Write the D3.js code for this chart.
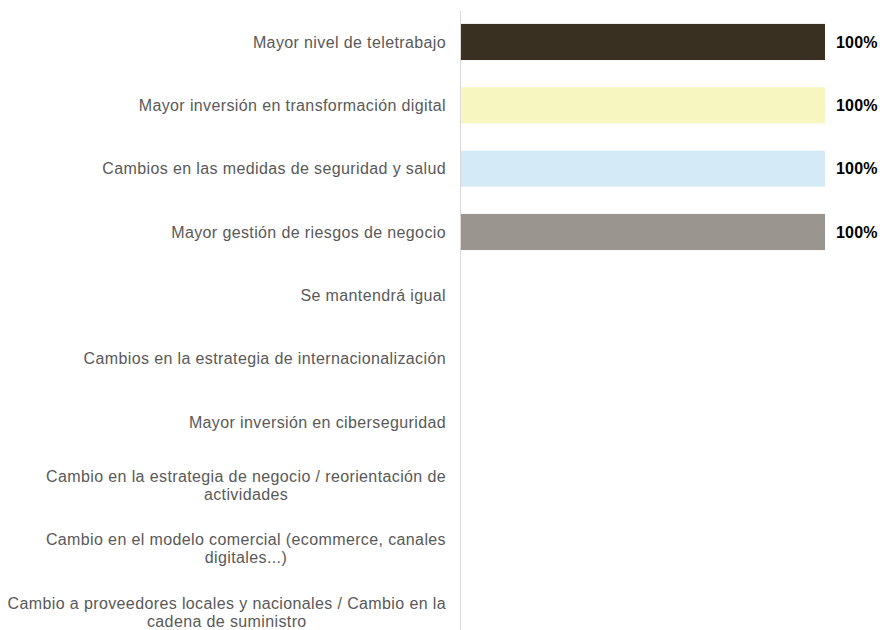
<!DOCTYPE html>
<html>
<head>
<meta charset="utf-8">
<script src="https://cdn.jsdelivr.net/npm/d3@7"></script>
<style>
  html, body { margin: 0; padding: 0; background: #fff; }
  svg { display: block; font-family: "Liberation Sans", Arial, sans-serif; }
</style>
</head>
<body>
<svg id="chart" width="880" height="630"></svg>
<script>
const categories = [
  "Mayor nivel de teletrabajo",
  "Mayor inversión en transformación digital",
  "Cambios en las medidas de seguridad y salud",
  "Mayor gestión de riesgos de negocio",
  "Se mantendrá igual",
  "Cambios en la estrategia de internacionalización",
  "Mayor inversión en ciberseguridad",
  "Cambio en la estrategia de negocio / reorientación de actividades",
  "Cambio en el modelo comercial (ecommerce, canales digitales...)",
  "Cambio a proveedores locales y nacionales / Cambio en la cadena de suministro"
];
const values = [100, 100, 100, 100, 0, 0, 0, 0, 0, 0];
const barColors = ["#3a3021", "#f7f6c1", "#d5eaf7", "#9a958e", "#9a958e", "#9a958e", "#9a958e", "#9a958e", "#9a958e", "#9a958e"];

const svg = d3.select("#chart");
const axisX = 460.5;
const labelRight = 446;
const maxLabelWidth = 445;
const fontSize = 16;
const spacing = 0.38;

const x = d3.scaleLinear().domain([0, 100]).range([461, 825]);
const y = d3.scaleBand().domain(categories).range([10.3, 643.7]).paddingInner(0.43).paddingOuter(0.215);

// vertical category axis line
svg.append("line")
  .attr("x1", axisX).attr("x2", axisX)
  .attr("y1", 11).attr("y2", 630)
  .attr("stroke", "#d9d9d9").attr("stroke-width", 1);

// bars
const data = categories.map((c, i) => ({ c, v: values[i], color: barColors[i] }));
svg.append("g").selectAll("rect")
  .data(data.filter(d => d.v > 0))
  .join("rect")
  .attr("x", x(0))
  .attr("y", d => y(d.c))
  .attr("width", d => x(d.v) - x(0))
  .attr("height", y.bandwidth())
  .attr("fill", d => d.color);

// value labels
svg.append("g").selectAll("text")
  .data(data.filter(d => d.v > 0))
  .join("text")
  .attr("x", d => x(d.v) + 11)
  .attr("y", d => y(d.c) + y.bandwidth() / 2)
  .attr("dy", "0.36em")
  .attr("font-size", fontSize)
  .attr("font-weight", "bold")
  .attr("letter-spacing", 0.2)
  .attr("fill", "#000")
  .text(d => d.v + "%");

// category labels, wrapped; lines centered within a right-aligned block
const measure = svg.append("text")
  .attr("font-size", fontSize)
  .attr("letter-spacing", spacing)
  .attr("visibility", "hidden");
function textWidth(s) { measure.text(s); return measure.node().getComputedTextLength(); }
function wrap(s) {
  const words = s.split(" ");
  const lines = [];
  let cur = "";
  words.forEach(w => {
    const t = cur ? cur + " " + w : w;
    if (textWidth(t) > maxLabelWidth && cur) { lines.push(cur); cur = w; }
    else cur = t;
  });
  if (cur) lines.push(cur);
  return lines;
}
const lineH = 18;
const labels = svg.append("g");
categories.forEach(c => {
  const lines = wrap(c);
  const widths = lines.map(textWidth);
  const blockW = d3.max(widths);
  const cx = labelRight - blockW / 2;
  const cy = y(c) + y.bandwidth() / 2;
  const t = labels.append("text")
    .attr("font-size", fontSize)
    .attr("letter-spacing", spacing)
    .attr("fill", "#595959")
    .attr("text-anchor", "middle");
  lines.forEach((ln, i) => {
    t.append("tspan")
      .attr("x", cx)
      .attr("y", cy + (i - (lines.length - 1) / 2) * lineH)
      .attr("dy", "0.36em")
      .text(ln);
  });
});
measure.remove();
</script>
</body>
</html>
